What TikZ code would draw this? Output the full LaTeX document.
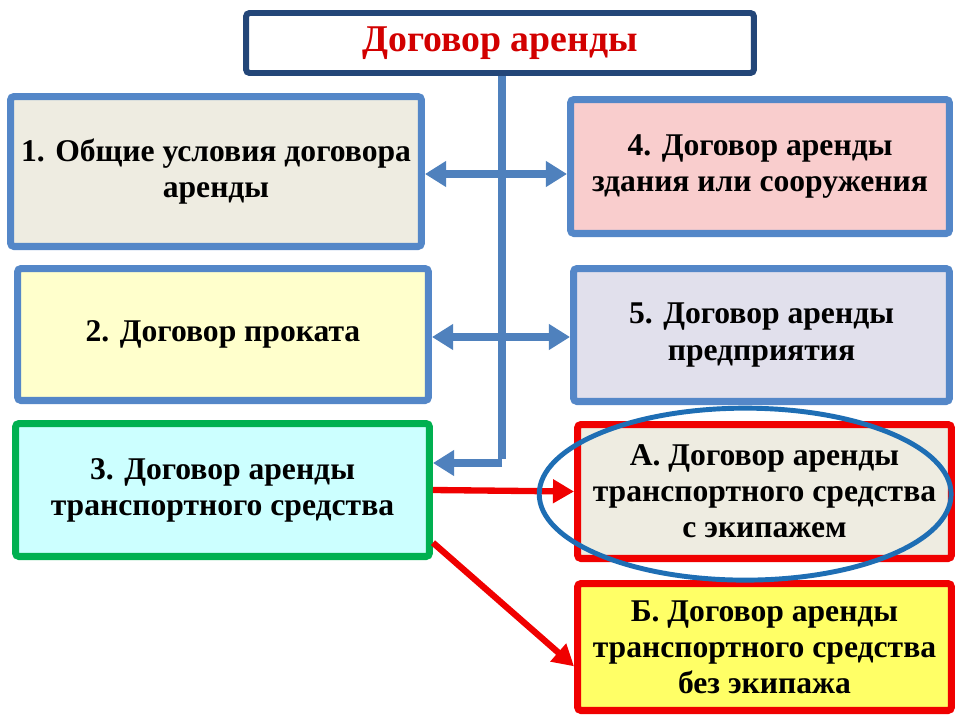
\documentclass[tikz,border=0pt]{standalone}
\usepackage{fontspec}
\setmainfont{Liberation Serif}
\usetikzlibrary{arrows.meta,positioning,calc}
\definecolor{TitleNavy}{RGB}{35,70,120}
\definecolor{FrameBlue}{RGB}{84,135,200}
\definecolor{LinkBlue}{RGB}{79,129,189}
\definecolor{SoftStone}{RGB}{238,236,225}
\definecolor{SoftPink}{RGB}{249,205,205}
\definecolor{SoftCream}{RGB}{255,255,204}
\definecolor{SoftLilac}{RGB}{225,224,236}
\definecolor{SoftCyan}{RGB}{204,255,255}
\definecolor{FrameGreen}{RGB}{0,176,80}
\definecolor{FrameRed}{RGB}{240,0,0}
\definecolor{SoftLemon}{RGB}{255,255,102}
\definecolor{RingBlue}{RGB}{30,110,180}
\definecolor{TitleRed}{RGB}{210,0,0}

\begin{document}
\begin{tikzpicture}[x=0.02cm, y=-0.02cm,
    box/.style={rounded corners=2pt, line width=4pt, draw=FrameBlue, align=center,
      inner sep=0pt, font=\fontsize{18}{20.6}\selectfont\bfseries},
    redbox/.style={box, draw=FrameRed},
    headbox/.style={box, draw=TitleNavy, line width=3.4pt, fill=white, text=TitleRed,
      font=\fontsize{21.5}{24}\selectfont\bfseries},
    link/.style={line width=4.5pt, LinkBlue},
    arr/.style={link, -{Triangle[length=12pt, width=14pt]}},
    biarr/.style={link, {Triangle[length=12pt, width=14pt]}-{Triangle[length=12pt, width=14pt]}},
    redarr/.style={line width=3.6pt, FrameRed, -{Triangle[length=12pt, width=13pt]}},
    ring/.style={line width=2.8pt, RingBlue}
  ]
    \useasboundingbox (0,0) rectangle (960,720);
    \fill[white] (0,0) rectangle (960,720);

    % left column
    \node[box, fill=SoftStone, minimum width=8.22cm, minimum height=3.0cm] (gen) at (216,171.5)
      {1. Общие условия договора\\аренды};
    \node[box, fill=SoftCream, minimum width=8.22cm, minimum height=2.64cm] (hire) at (223,334.5)
      {2. Договор проката};
    \node[box, fill=SoftCyan, draw=FrameGreen, minimum width=8.28cm, minimum height=2.66cm] (veh) at (222.5,490)
      {3. Договор аренды\\транспортного средства};

    % right column
    \node[box, fill=SoftPink, minimum width=7.58cm, minimum height=2.68cm] (bldg) at (760,166.5)
      {4. Договор аренды\\здания или сооружения};
    \node[box, fill=SoftLilac, minimum width=7.52cm, minimum height=2.66cm] (firm) at (761.5,335)
      {5. Договор аренды\\предприятия};
    \node[redbox, fill=SoftStone, minimum width=7.48cm, minimum height=2.68cm] (crew) at (764.5,491.5)
      {А. Договор аренды\\транспортного средства\\с экипажем};
    \node[redbox, fill=SoftLemon, minimum width=7.48cm, minimum height=2.54cm] (nocrew) at (764.5,647)
      {Б. Договор аренды\\транспортного средства\\без экипажа};

    % title on top of the trunk
    \coordinate (j1) at (502,174);
    \coordinate (j2) at (502,337);
    \coordinate (j3) at (502,463);
    \draw[link] (502,70) -- ([yshift=2.2pt]j3);
    \node[headbox, minimum width=10.16cm, minimum height=1.2cm] (title) at (500,43) {Договор аренды};

    \draw[biarr] (gen.east |- j1) -- (bldg.west |- j1);
    \draw[biarr] (hire.east |- j2) -- (firm.west |- j2);
    \draw[arr] (j3) -- (veh.east |- j3);

    \draw[redarr] (veh.east) -- (crew.west);
    \draw[redarr] ([yshift=-30pt]veh.east) -- ([yshift=-11pt]nocrew.west);

    \draw[ring] ([xshift=-11pt,yshift=-1.5pt]crew.center) ellipse [x radius=4.12cm, y radius=1.72cm];
\end{tikzpicture}
\end{document}
